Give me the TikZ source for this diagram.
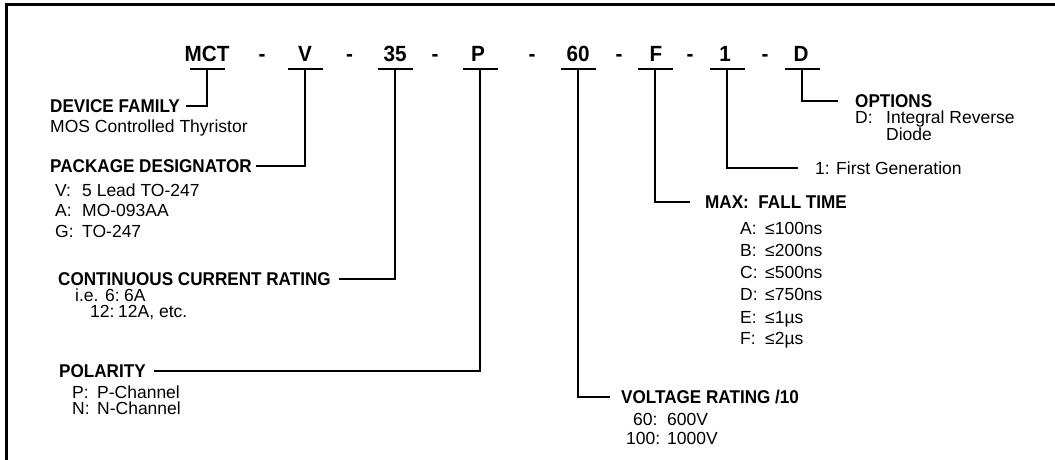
\documentclass[tikz,border=0pt]{standalone}
\usepackage{fontspec}
\newfontfamily\lblfont[FakeStretch=0.94]{Liberation Sans}
\newfontfamily\hdfont[FakeStretch=0.925]{Liberation Sans}
\newfontfamily\bdfont{Liberation Sans}
\tikzset{
  code/.style={font=\lblfont\fontsize{22}{24}\selectfont\bfseries, anchor=base, inner sep=0pt},
  head/.style={font=\hdfont\fontsize{18.5}{20}\selectfont\bfseries, anchor=west, inner sep=0pt, text height=13pt, text depth=0pt},
  body/.style={font=\bdfont\fontsize{17.5}{19}\selectfont, anchor=west, inner sep=0pt, text height=12.5pt, text depth=0pt},
  ln/.style={line width=1.6pt, line join=miter},
  frame/.style={line width=3pt, line join=miter}
}
\begin{document}
\begin{tikzpicture}[x=1pt,y=-1pt]
\useasboundingbox (0,0) rectangle (1055,460);
\draw[frame] (6,460) -- (6,4.5) -- (1055,4.5);

% part number
\node[code] (mct) at (207,62) {MCT};
\node[code] (d1)  at (262,62) {-};
\node[code] (v)   at (305,62) {V};
\node[code] (d2)  at (349.5,62) {-};
\node[code] (c35) at (395,62) {35};
\node[code] (d3)  at (435,62) {-};
\node[code] (p)   at (478,62) {P};
\node[code] (d4)  at (532,62) {-};
\node[code] (c60) at (578,62) {60};
\node[code] (d5)  at (619,62) {-};
\node[code] (f)   at (656,62) {F};
\node[code] (d6)  at (690,62) {-};
\node[code] (c1)  at (725,62) {1};
\node[code] (d7)  at (765,62) {-};
\node[code] (d)   at (801,62) {D};

\coordinate (umct) at (207,69);
\coordinate (uv)   at (305,69);
\coordinate (uc35) at (395,69);
\coordinate (up)   at (480,69);
\coordinate (uc60) at (578,69);
\coordinate (uf)   at (655,69);
\coordinate (uc1)  at (727,69);
\coordinate (ud)   at (802,69);
\foreach \n in {mct,v,c35,p,c60,f,c1,d}
  \draw[ln] ([xshift=-17.5pt]u\n) -- ([xshift=17.5pt]u\n);

% left labels
\node[head] (devfam) at (50,106) {DEVICE FAMILY};
\node[body] (devfamt) at (50,126) {MOS Controlled Thyristor};

\node[head] (pkg) at (50,166) {PACKAGE DESIGNATOR};
\node[body] (pkg1) at (55,190) {\makebox[27pt][l]{V:}5 Lead TO-247};
\node[body] (pkg2) at (55,210) {\makebox[27pt][l]{A:}MO-093AA};
\node[body] (pkg3) at (55,231) {\makebox[27pt][l]{G:}TO-247};

\node[head] (cont) at (58,279) {CONTINUOUS CURRENT RATING};
\node[body] (cont1) at (75,295) {\makebox[49pt][l]{i.e. 6:}6A};
\node[body] (cont2) at (90,311) {\makebox[28pt][l]{12:}12A, etc.};

\node[head] (pol) at (59,371) {POLARITY};
\node[body] (pol1) at (72,392) {\makebox[25pt][l]{P:}P-Channel};
\node[body] (pol2) at (72,408) {\makebox[25pt][l]{N:}N-Channel};

% right labels
\node[head] (opt) at (855,101) {OPTIONS};
\node[body] (opt1) at (855,117) {\makebox[31pt][l]{D:}Integral Reverse};
\node[body] (opt2) at (886,134) {Diode};

\node[body] (gen) at (815,168) {\makebox[21pt][l]{1:}First Generation};

\node[head] (maxf) at (705,202) {MAX:\ \ FALL TIME};
\node[body] (fa) at (740,228) {\makebox[25pt][l]{A:}≤100ns};
\node[body] (fb) at (740,250) {\makebox[25pt][l]{B:}≤200ns};
\node[body] (fc) at (740,272) {\makebox[25pt][l]{C:}≤500ns};
\node[body] (fd) at (740,294) {\makebox[25pt][l]{D:}≤750ns};
\node[body] (fe) at (740,317) {\makebox[25pt][l]{E:}≤1µs};
\node[body] (ff) at (740,338) {\makebox[25pt][l]{F:}≤2µs};

\node[head] (volt) at (621,397) {VOLTAGE RATING /10};
\node[body] (volt1) at (633,419) {\makebox[34pt][l]{60:}600V};
\node[body] (volt2) at (626,438) {\makebox[41pt][l]{100:}1000V};

% connectors
\draw[ln] (umct) |- ([xshift=6pt]devfam.east);
\draw[ln] (uv)   |- ([xshift=4pt]pkg.east);
\draw[ln] (uc35) |- ([xshift=8pt]cont.east);
\draw[ln] (up)   |- ([xshift=8pt]pol.east);
\draw[ln] (uc60) |- ([xshift=-11pt]volt.west);
\draw[ln] (uf)   |- ([xshift=-15pt]maxf.west);
\draw[ln] (uc1)  |- ([xshift=-17pt]gen.west);
\draw[ln] (ud)   |- ([xshift=-17pt]opt.west);
\end{tikzpicture}
\end{document}
